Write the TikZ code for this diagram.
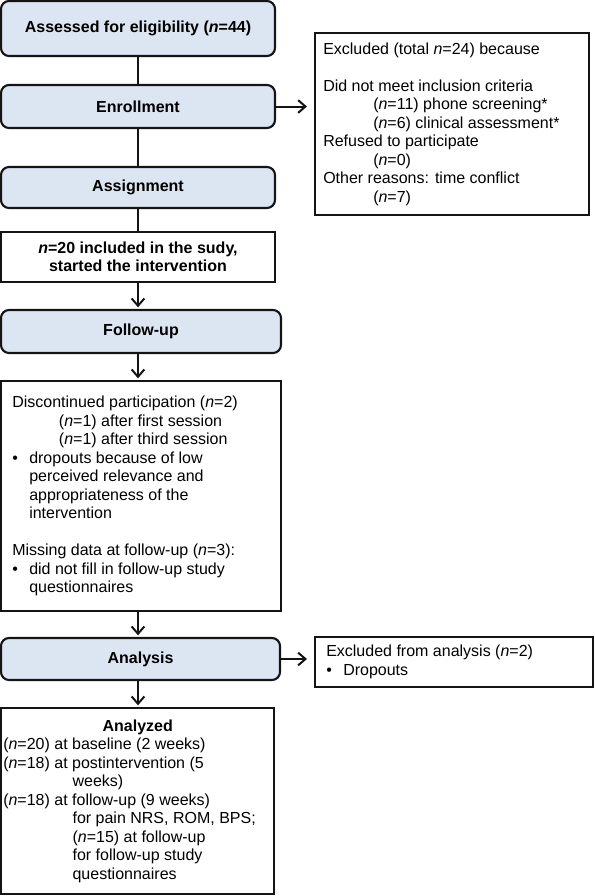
\documentclass[tikz,border=0pt]{standalone}
\usepackage{fontspec}
\setmainfont{Liberation Sans}
\usetikzlibrary{arrows.meta,calc}
\definecolor{boxblue}{HTML}{DCE6F2}
\definecolor{edge}{HTML}{141414}
\newcommand{\nn}{\textit{n}}
\newcommand{\bul}{\makebox[12.75pt][l]{•}}
\newcommand{\ind}[1]{\hspace*{#1}}
\begin{document}
\begin{tikzpicture}[
  x=0.75pt, y=-0.75pt,
  base/.style={draw=edge, line width=1.6pt, outer sep=0pt, inner sep=0pt, anchor=north west},
  phase/.style={base, fill=boxblue, rounded corners=6pt, font=\bfseries\fontsize{12}{13.9}\selectfont, align=center},
  plainbox/.style={base, fill=white},
  txt/.style={anchor=west, align=left, inner sep=0pt, font=\fontsize{12}{13.9}\selectfont},
  link/.style={draw=edge, line width=1.5pt},
  arr/.style={link, -{Straight Barb[length=5.5pt,width=9.5pt]}, shorten >=2pt},
]
\useasboundingbox (0,0) rectangle (594,896);

% left column
\node[phase, minimum width=205.5pt, minimum height=41.25pt] (assess) at (1,1) {Assessed for eligibility (\nn=44)};
\node[phase, minimum width=205.5pt, minimum height=32.25pt] (enrol) at (1,85) {Enrollment};
\node[phase, minimum width=205.5pt, minimum height=30.75pt] (assign) at (1,167) {Assignment};
\node[plainbox, minimum width=205.5pt, minimum height=37.5pt, align=center,
      font=\bfseries\fontsize{12}{13.9}\selectfont] (n20) at (1,232)
      {\nn=20 included in the sudy,\\started the intervention};
\node[phase, minimum width=210pt, minimum height=32.25pt] (follow) at (1,310) {Follow-up};
\node[plainbox, minimum width=210pt, minimum height=172.5pt] (disc) at (1,381) {};
\node[phase, minimum width=209.25pt, minimum height=31.5pt] (analysis) at (1,638) {Analysis};
\node[plainbox, minimum width=204.75pt, minimum height=139.5pt] (analyzed) at (1,708) {};

% right column
\node[plainbox, minimum width=205.5pt, minimum height=136.5pt] (excl) at (315,33) {};
\node[plainbox, minimum width=208.5pt, minimum height=37.5pt] (exana) at (315,637) {};

% texts
\node[txt] (disc-t) at ([xshift=8.25pt]disc.west) {%
Discontinued participation (\nn=2)\\
\ind{35pt}(\nn=1) after first session\\
\ind{35pt}(\nn=1) after third session\\
\bul dropouts because of low\\
\ind{12.75pt}perceived relevance and\\
\ind{12.75pt}appropriateness of the\\
\ind{12.75pt}intervention\\[13.9pt]
Missing data at follow-up (\nn=3):\\
\bul did not fill in follow-up study\\
\ind{12.75pt}questionnaires};

\node[txt] (analyzed-t) at ([xshift=1.5pt]analyzed.west) {%
\makebox[201.75pt]{\bfseries Analyzed}\\
(\nn=20) at baseline (2 weeks)\\
(\nn=18) at postintervention (5\\
\ind{52pt}weeks)\\
(\nn=18) at follow-up (9 weeks)\\
\ind{52pt}for pain NRS, ROM, BPS;\\
\ind{52pt}(\nn=15) at follow-up\\
\ind{52pt}for follow-up study\\
\ind{52pt}questionnaires};

\node[txt] (excl-t) at ([xshift=6pt]excl.west) {%
Excluded (total \nn=24) because\\[13.9pt]
Did not meet inclusion criteria\\
\ind{37.5pt}(\nn=11) phone screening*\\
\ind{37.5pt}(\nn=6) clinical assessment*\\
Refused to participate\\
\ind{37.5pt}(\nn=0)\\
Other reasons: time conflict\\
\ind{37.5pt}(\nn=7)};

\node[txt] (exana-t) at ([xshift=8.25pt]exana.west) {%
Excluded from analysis (\nn=2)\\
\bul Dropouts};

% connectors
\draw[link] (assess.south) -- (enrol.north);
\draw[link] (enrol.south) -- (assign.north);
\draw[link] (assign.south) -- (n20.north);
\draw[arr] (n20.south) -- (n20.south |- follow.north);
\draw[arr] (n20.south |- follow.south) -- (n20.south |- disc.north);
\draw[arr] (n20.south |- disc.south) -- (n20.south |- analysis.north);
\draw[arr] (n20.south |- analysis.south) -- (n20.south |- analyzed.north);
\draw[arr, shorten >=6pt] (enrol.east) -- (enrol.east -| excl.west);
\draw[arr, shorten >=6pt] (analysis.east) -- (analysis.east -| exana.west);
\end{tikzpicture}
\end{document}
